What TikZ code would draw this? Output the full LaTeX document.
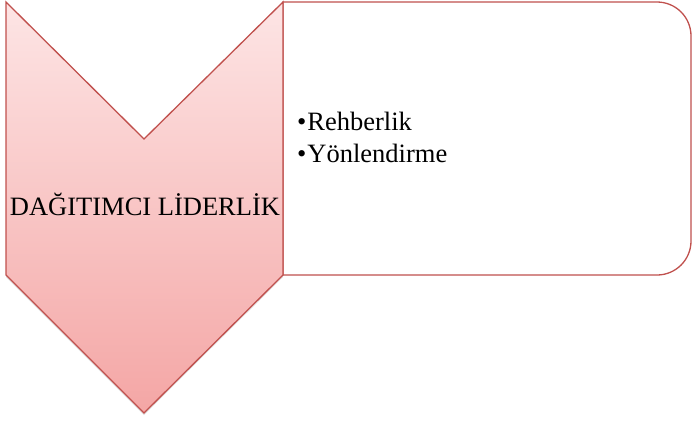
\documentclass[tikz,border=0pt]{standalone}
\usepackage{fontspec}
\setmainfont{Liberation Serif}
\usetikzlibrary{shadows}
\definecolor{accentred}{RGB}{192,80,77}
\definecolor{pinktop}{RGB}{253,229,229}
\definecolor{pinkbottom}{RGB}{244,166,165}
\tikzset{
  chevron/.style={draw=accentred, line width=1.3pt, top color=pinktop, bottom color=pinkbottom,
    drop shadow={shadow xshift=0pt, shadow yshift=-2pt, opacity=0.25}},
  listbox/.style={draw=accentred, line width=1.3pt, fill=white},
  item/.style={font=\fontsize{26.5}{30}\selectfont, anchor=base west, inner sep=0pt},
}
\begin{document}
\begin{tikzpicture}[x=1pt, y=-1pt]
      \useasboundingbox (0,0) rectangle (692,421);
      % corners of the chevron and the list box
      \coordinate (tl) at (6,2);
      \coordinate (tr) at (283,2);
      \coordinate (notch) at (144,139);
      \coordinate (bl) at (6,275);
      \coordinate (br) at (283,275);
      \coordinate (tip) at (144,413);
      \coordinate (boxtr) at (691,2);
      \coordinate (boxbr) at (691,275);
      \draw[listbox] (br) -- (tr) [rounded corners=34pt] -- (boxtr) -- (boxbr) [sharp corners] -- cycle;
      \draw[chevron] (tl) -- (notch) -- (tr) -- (br) -- (tip) -- (bl) -- cycle;
      \node[font=\fontsize{26.5}{30}\selectfont, anchor=base] (title) at (145,215) {DAĞITIMCI LİDERLİK};
      \node[item] (item1) at (297,130) {•\hspace{1pt}Rehberlik};
      \node[item] (item2) at (297,162) {•\hspace{1pt}Yönlendirme};
\end{tikzpicture}
\end{document}
